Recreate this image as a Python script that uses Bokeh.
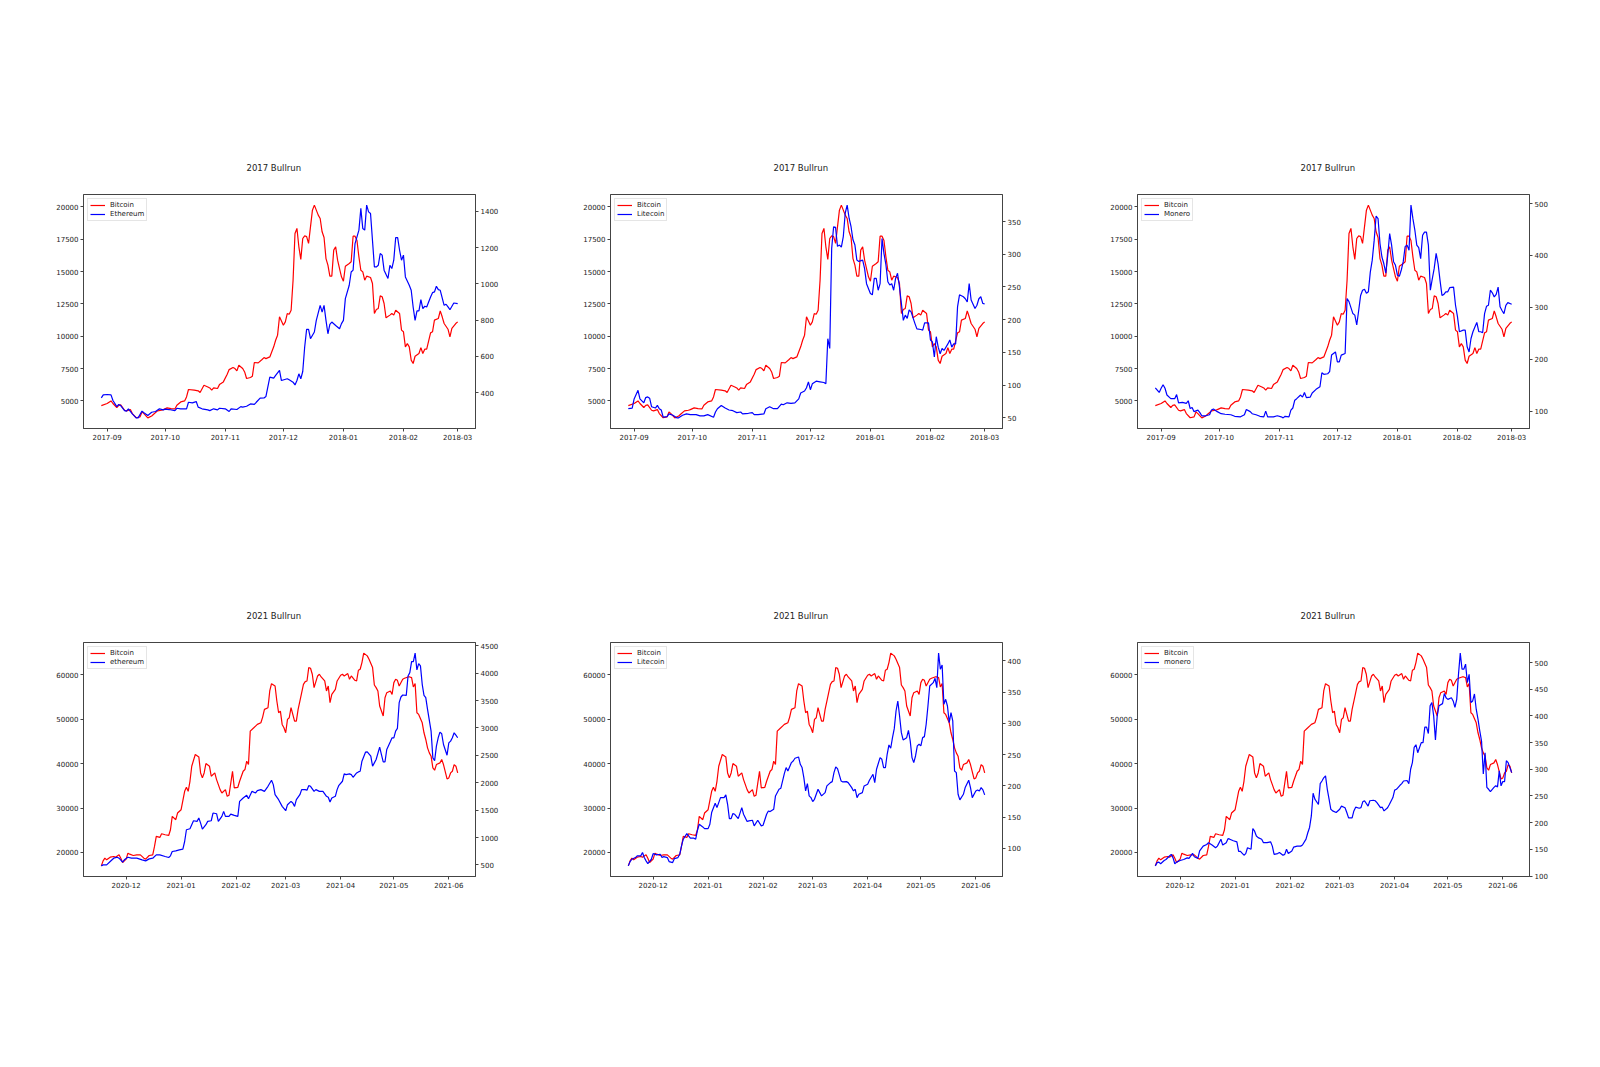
import pandas as pd
from bokeh.plotting import figure
from bokeh.models import (Range1d, LinearAxis, SingleIntervalTicker, DatetimeTickFormatter,
                          MonthsTicker, Legend, LegendItem, BasicTickFormatter, ColumnDataSource)
from bokeh.layouts import column, row
from bokeh.embed import file_html
from bokeh.resources import INLINE

FONT = "DejaVu Sans"

# ---- data: (day offset from start date, daily price in USD) ----
start17 = "2017-08-29"
start21 = "2020-11-17"

btc17 = [(0,4640),(3,4800),(5,5000),(6,4800),(8,4490),(9,4650),(10,4690),(12,4280),(13,4230),(15,4330),
         (16,4020),(18,3700),(20,3765),(21,4150),(22,4020),(24,3690),(26,3840),(27,3970),(29,4230),(31,4280),
         (32,4330),(34,4460),(36,4410),(38,4380),(39,4670),(41,4920),(43,5000),(44,5310),(45,5880),(48,5830),
         (50,5780),(51,5650),(53,6210),(55,6080),(56,6000),(57,5830),(58,6010),(60,5960),(61,6260),(63,6470),
         (65,7060),(66,7420),(68,7580),(69,7500),(70,7320),(71,7760),(73,7500),(74,7240),(75,6730),(77,6810),
         (78,6910),(79,7970),(81,7940),(83,8200),(84,8350),(85,8270),(87,8400),(89,9180),(90,9690),(91,10080),
         (92,11500),(94,10850),(95,11110),(96,11750),(97,11700),(98,12010),(99,14300),(100,17940),(101,18330),
         (102,16910),(103,15930),(104,17550),(105,17760),(106,17700),(107,17170),(108,18450),(109,19740),
         (110,20130),(112,19360),(113,19100),(114,18070),(115,17630),(116,16000),(117,15490),(118,14640),
         (119,14640),(120,16650),(121,16910),(122,15880),(123,15230),(124,14590),(125,14250),(126,15410),
         (128,15620),(129,15750),(130,17730),(131,17730),(132,17400),(133,16130),(134,15100),(135,14970),
         (136,14330),(137,14640),(139,14540),(140,14070),(141,11750),(142,12060),(143,12140),(144,13120),
         (145,13050),(146,12530),(147,11420),(149,11630),(150,11750),(151,11630),(152,12010),(154,11750),
         (155,10470),(156,10340),(157,9180),(158,9430),(159,9180),(160,8150),(161,7890),(162,8450),(164,8660),
         (165,9120),(166,8660),(167,9000),(168,9000),(170,10260),(171,10340),(172,11240),(174,11370),
         (175,11960),(176,11500),(177,10980),(179,10540),(180,9950),(181,10600),(183,10980),(184,11110)]

eth17 = [(0,371),(1,388),(3,390),(5,388),(6,357),(8,323),(9,335),(10,329),(12,301),(13,298),(14,311),
         (16,283),(18,261),(19,261),(21,298),(22,289),(24,274),(26,292),(28,296),(30,311),(32,305),(33,309),
         (35,307),(38,301),(39,314),(41,311),(44,311),(45,347),(47,344),(49,351),(50,320),(52,311),(55,305),
         (56,301),(58,311),(60,305),(61,314),(64,311),(66,296),(67,311),(70,307),(72,323),(73,320),(75,325),
         (77,338),(79,335),(80,347),(82,370),(84,371),(85,379),(87,486),(89,480),(90,495),(92,523),(93,467),
         (96,477),(97,471),(99,458),(100,443),(101,467),(102,504),(103,477),(104,517),(105,652),(106,749),
         (107,749),(108,698),(110,735),(111,799),(113,882),(114,845),(115,882),(116,799),(117,725),(118,777),
         (119,790),(121,771),(123,753),(124,781),(125,799),(126,919),(128,993),(129,1066),(130,1076),
         (131,1223),(133,1297),(134,1417),(135,1306),(136,1297),(137,1435),(138,1398),(139,1389),(140,1241),
         (141,1094),(142,1094),(143,1103),(144,1168),(145,1159),(146,1076),(148,1030),(149,1103),(150,1085),
         (151,1131),(152,1256),(153,1256),(154,1186),(155,1131),(156,1159),(157,1039),(159,993),(160,965),
         (161,873),(162,799),(163,851),(164,851),(165,913),(166,864),(167,877),(168,873),(170,928),(171,952),
         (172,956),(173,987),(174,969),(175,965),(177,882),(178,888),(179,873),(180,858),(182,895),(184,891)]

ltc17 = [(0,64),(2,65),(3,79),(5,92),(6,79),(8,73),(9,81),(10,82),(11,80),(12,67),(14,65),(15,69),(16,64),
         (17,62),(18,51),(20,52),(21,56),(23,54),(25,50),(26,50),(28,54),(30,56),(32,55),(35,55),(37,53),
         (39,53),(41,55),(44,51),(45,59),(46,64),(48,69),(50,65),(52,62),(54,61),(56,58),(58,59),(59,56),
         (62,57),(64,58),(65,55),(67,55),(70,56),(71,64),(73,67),(75,64),(77,64),(79,71),(80,70),(82,73),
         (84,72),(86,73),(88,79),(89,88),(91,91),(92,96),(93,105),(94,93),(95,102),(97,106),(99,105),(101,104),
         (102,102),(103,171),(104,156),(105,309),(106,342),(107,341),(108,312),(109,314),(110,311),(111,327),
         (112,363),(113,375),(114,355),(115,342),(116,322),(117,314),(118,291),(119,289),(121,291),(122,278),
         (123,255),(125,240),(126,238),(127,263),(128,263),(129,245),(130,255),(131,324),(132,301),(133,284),
         (134,258),(135,253),(136,255),(137,245),(138,263),(139,271),(140,250),(142,199),(143,207),(144,202),
         (145,215),(146,212),(148,194),(149,186),(151,185),(152,184),(153,195),(155,195),(156,169),(157,166),
         (158,143),(159,174),(160,158),(161,148),(162,156),(163,153),(165,163),(166,169),(167,158),(168,163),
         (169,163),(170,220),(171,238),(173,235),(174,232),(175,227),(176,255),(177,230),(179,217),(180,222),
         (181,232),(182,235),(183,225),(184,224)]

xmr17 = [(0,145),(2,136),(3,144),(4,151),(5,144),(6,131),(8,124),(10,124),(11,132),(12,116),(14,117),
         (16,115),(17,120),(18,105),(19,107),(20,99),(22,102),(23,97),(24,91),(26,91),(28,93),(29,102),
         (30,104),(32,99),(34,95),(36,94),(39,93),(41,90),(44,89),(46,93),(47,103),(49,99),(50,95),(52,93),
         (54,90),(56,89),(57,100),(58,89),(61,89),(63,91),(65,89),(66,87),(67,90),(69,89),(70,102),(71,106),
         (72,121),(73,124),(75,131),(76,127),(77,136),(78,126),(80,127),(81,135),(83,142),(85,147),(86,174),
         (87,171),(89,172),(90,176),(91,208),(93,214),(94,195),(95,195),(96,208),(98,211),(99,317),(100,311),
         (102,288),(103,285),(104,266),(105,294),(106,323),(107,333),(108,335),(109,327),(110,330),(111,368),
         (112,391),(113,429),(114,476),(115,471),(116,423),(117,397),(118,384),(119,366),(120,400),(121,442),
         (122,420),(123,388),(124,381),(125,362),(126,360),(127,372),(128,388),(129,417),(130,420),(131,410),
         (132,497),(133,471),(134,449),(135,420),(136,415),(137,394),(138,439),(139,445),(140,445),(141,420),
         (142,333),(143,355),(144,375),(145,404),(146,384),(147,352),(148,323),(149,325),(150,330),(151,330),
         (152,338),(154,339),(155,304),(156,282),(157,253),(159,256),(160,256),(161,224),(162,214),(163,240),
         (164,253),(165,262),(166,271),(167,253),(168,253),(169,251),(170,288),(171,302),(172,304),(173,333),
         (174,328),(175,320),(176,325),(177,339),(178,301),(179,294),(180,288),(181,304),(182,309),(184,306)]

btc21 = [(0,16990),(1,18120),(2,18720),(3,18350),(5,18950),(7,19100),(8,18950),(10,19470),(11,18720),
         (12,17740),(14,18500),(15,19850),(16,19620),(18,19320),(20,19470),(22,19470),(24,18720),(25,18500),
         (27,19320),(29,19470),(30,21350),(31,23610),(33,23380),(34,24210),(36,23980),(38,23830),(39,25110),
         (40,28120),(42,27370),(43,28870),(45,29620),(47,33760),(48,34660),(49,33760),(50,36010),(51,39400),
         (53,42030),(55,41500),(56,37890),(57,36770),(58,37890),(59,40000),(61,39400),(62,37140),(64,37890),
         (65,36390),(67,34130),(68,33380),(70,34130),(71,32630),(72,32860),(74,38270),(75,34510),(77,34660),
         (78,36010),(80,38270),(81,38650),(82,40530),(83,39770),(84,47290),(86,48040),(87,48420),(88,48800),
         (90,49170),(91,50450),(92,52180),(94,52560),(95,56320),(96,57970),(98,57440),(99,54060),(100,51430),
         (101,51800),(102,48800),(103,48040),(104,46920),(105,49920),(106,50300),(107,52560),(108,51050),
         (109,49550),(110,49550),(111,52180),(112,54060),(114,57820),(115,58420),(116,58570),(117,61580),
         (118,61430),(119,60080),(120,57070),(122,59700),(123,60080),(124,59470),(126,58570),(127,56320),
         (128,57440),(129,53680),(130,55560),(132,56690),(133,58570),(135,59850),(136,60080),(137,59700),
         (139,60230),(140,58950),(141,59700),(143,58720),(144,58570),(145,60980),(146,61200),(147,62710),
         (148,64830),(150,64210),(151,63460),(153,61580),(154,57670),(155,57070),(156,56320),(157,52930),
         (159,50680),(160,54810),(161,55940),(163,56320),(164,55560),(165,58200),(166,58950),(167,58720),
         (168,57440),(170,58950),(171,59170),(173,59470),(174,59470),(175,59320),(176,57220),(177,57970),
         (178,51430),(179,51050),(181,49170),(182,46920),(183,45410),(184,43530),(185,42400),(186,41650),
         (187,39020),(188,38500),(189,39770),(191,40150),(192,40900),(193,39770),(195,36540),(196,36770),
         (197,37890),(198,38270),(199,39770),(200,39400),(201,37890)]

eth21 = [(0,482),(1,500),(3,500),(5,561),(7,622),(9,640),(10,622),(12,549),(13,592),(15,640),(17,622),
         (20,622),(23,592),(25,573),(27,610),(29,622),(31,683),(33,683),(36,653),(38,634),(39,665),(40,744),
         (42,756),(44,775),(46,787),(47,927),(48,1141),(50,1160),(51,1233),(52,1306),(54,1294),(55,1355),
         (56,1263),(57,1153),(59,1233),(60,1294),(62,1306),(63,1447),(65,1434),(66,1294),(68,1386),(69,1477),
         (70,1386),(72,1386),(73,1428),(75,1404),(77,1386),(78,1660),(80,1721),(82,1770),(83,1709),(85,1843),
         (87,1813),(88,1856),(90,1874),(92,1843),(94,1935),(96,2045),(97,1966),(98,1782),(100,1691),(102,1569),
         (104,1489),(105,1599),(107,1660),(108,1630),(109,1569),(110,1691),(112,1782),(113,1874),(115,1874),
         (116,1862),(117,1947),(118,1935),(120,1843),(121,1874),(123,1843),(125,1843),(127,1752),(128,1734),
         (129,1648),(130,1721),(132,1752),(133,1874),(134,1953),(136,2027),(137,2161),(138,2149),(140,2161),
         (141,2149),(142,2100),(144,2179),(145,2198),(146,2210),(147,2393),(149,2558),(150,2564),(152,2485),
         (153,2301),(154,2363),(155,2424),(157,2650),(158,2515),(159,2381),(160,2381),(161,2607),(163,2747),
         (164,2821),(165,2821),(166,2943),(167,2992),(168,3462),(169,3566),(170,3602),(172,3596),(173,3950),
         (174,4011),(175,4213),(176,4213),(177,4367),(178,4060),(179,4176),(180,4134),(181,3798),(182,3596),
         (183,3553),(184,3340),(186,2943),(187,2454),(188,2405),(189,2668),(190,2821),(191,2924),(192,2894),
         (193,2698),(195,2503),(196,2729),(197,2760),(198,2821),(199,2912),(200,2870),(201,2821)]

ltc21 = [(0,71.7),(1,78.6),(2,82.3),(4,85.0),(5,87.7),(7,87.7),(8,93.0),(9,85.0),(10,79.7),(11,75.4),
         (13,82.3),(14,91.4),(16,89.3),(18,90.3),(19,85.0),(20,86.6),(22,85.0),(23,78.6),(25,77.0),(26,83.4),
         (28,85.0),(29,90.3),(30,103.7),(31,114.4),(33,123.4),(34,119.7),(35,116.0),(37,116.0),(38,114.4),
         (39,128.8),(40,138.4),(42,134.1),(43,131.4),(45,131.4),(46,138.4),(47,157.1),(49,172.0),(50,165.1),
         (51,173.1),(52,181.1),(54,181.1),(55,185.4),(56,170.4),(57,147.5),(58,147.5),(59,155.5),(60,154.4),
         (62,147.5),(64,165.1),(65,154.4),(67,142.7),(68,143.7),(70,144.8),(71,135.7),(73,144.8),(75,135.7),
         (76,136.8),(78,154.4),(79,159.7),(80,158.7),(82,162.4),(83,183.8),(85,194.4),(86,196.0),(88,219.5),
         (89,229.2),(90,223.8),(92,237.2),(93,239.8),(94,244.1),(96,246.2),(97,234.5),(98,229.2),(99,213.1),
         (100,191.8),(101,203.5),(102,183.8),(103,181.1),(104,174.7),(105,178.4),(107,194.4),(108,189.1),
         (109,183.8),(111,189.1),(112,199.8),(114,205.1),(115,206.7),(116,221.1),(117,230.2),(118,227.6),
         (120,207.8),(121,206.2),(123,206.7),(124,205.1),(126,197.1),(127,191.8),(128,194.4),(129,181.1),
         (130,186.4),(132,189.1),(133,199.8),(135,202.5),(136,208.9),(138,218.5),(139,205.1),(140,226.5),
         (142,245.2),(143,242.5),(144,229.2),(145,229.2),(146,250.5),(147,265.5),(148,260.2),(149,277.2),
         (150,291.6),(151,319.9),(152,335.9),(153,311.9),(154,285.2),(155,273.5),(157,277.2),(158,288.9),
         (159,271.9),(160,245.2),(161,237.2),(162,247.8),(163,263.9),(164,266.5),(165,263.9),(166,277.2),
         (167,278.8),(168,298.6),(169,327.9),(170,360.0),(172,365.3),(173,372.2),(174,357.3),(175,412.6),
         (176,386.7),(177,393.6),(178,330.6),(179,338.6),(180,327.9),(181,301.2),(182,317.2),(183,303.9),
         (184,223.8),(185,221.1),(186,186.4),(187,177.4),(189,186.4),(190,197.1),(192,208.9),(193,197.1),
         (194,181.1),(196,191.8),(197,193.4),(198,191.8),(199,197.1),(200,193.4),(201,185.4)]

xmr21 = [(0,119),(1,125),(2,126),(3,123),(5,129),(6,131),(8,137.5),(9,140.6),(10,134),(11,123),(12,126),
         (14,129),(16,131),(18,134),(19,133),(21,142.5),(22,136),(24,133),(25,147),(27,156),(29,159),
         (30,162.5),(32,158),(34,153),(35,156),(37,169),(38,158),(40,162.5),(41,170),(42,169),(44,166),
         (46,164),(47,146),(48,146),(50,139),(51,142),(52,153),(54,150),(55,189),(56,184),(57,175),(58,172),
         (60,169),(61,162.5),(63,162.5),(65,164),(66,156),(67,140.6),(69,142),(70,144),(72,139),(73,140.6),
         (74,150),(75,142),(77,147),(78,154),(80,156),(82,156),(83,158),(85,169),(86,181),(87,191),(88,212.5),
         (89,255),(90,244),(92,234),(93,273),(94,278),(95,284),(96,287.5),(97,262.5),(98,244),(99,225),
         (100,222),(102,219),(104,225),(105,231),(107,228),(108,219),(109,209),(111,209),(112,222),(113,229),
         (115,227),(116,228),(117,239),(118,241),(120,231),(121,241),(123,242),(124,241),(125,237.5),(127,228),
         (128,229),(129,222),(131,228),(132,234),(134,247),(135,261),(136,262.5),(138,270),(139,273),(140,278),
         (142,279),(143,273),(144,300),(145,312.5),(146,341),(147,346),(148,331),(150,350),(151,350),(152,379),
         (153,379),(154,367),(155,419),(156,425),(157,400),(158,355),(159,400),(160,419),(162,423),(163,442),
         (164,434),(165,431),(167,434),(168,428),(169,416),(170,431),(171,478),(172,517.6),(173,487.5),
         (174,487.5),(175,497),(176,462.5),(177,478),(178,425),(179,428),(180,441),(181,412.5),(182,394),
         (183,372),(184,353),(185,291),(186,331),(187,266),(188,262.5),(189,258),(191,266),(192,269),(193,267),
         (194,297),(195,269),(196,277),(197,277),(198,316),(199,312.5),(200,303),(201,294)]

titles = ["2017 Bullrun", "2021 Bullrun"]
btc_label = "Bitcoin"
alt_labels17 = ["Ethereum", "Litecoin", "Monero"]
alt_labels21 = ["ethereum", "Litecoin", "monero"]
btc_tick_step = {"2017": 2500, "2021": 10000}
alt_tick_steps17 = [200, 50, 100]
alt_tick_steps21 = [500, 50, 50]


def to_series(start, pairs):
    days = [d for d, _ in pairs]
    vals = [v for _, v in pairs]
    dates = pd.Timestamp(start) + pd.to_timedelta(days, unit="D")
    return dates, vals


def padded(lo, hi, frac=0.05):
    span = hi - lo
    return lo - frac * span, hi + frac * span


def style_axis(ax):
    ax.major_label_text_font = FONT
    ax.major_label_text_font_size = "7px"
    ax.major_label_text_color = "#222222"
    ax.axis_line_color = "#444444"
    ax.major_tick_line_color = "#444444"
    ax.major_tick_out = 3
    ax.major_tick_in = 0
    ax.minor_tick_out = 0
    ax.minor_tick_in = 0
    ax.major_label_standoff = 2


def make_panel(title, start, btc_pairs, alt_pairs, alt_label, btc_step, alt_step, first_col, first_row):
    bx, bv = to_series(start, btc_pairs)
    ax_, av = to_series(start, alt_pairs)
    xlo = min(bx.min(), ax_.min())
    xhi = max(bx.max(), ax_.max())
    xspan = xhi - xlo
    x_range = Range1d(start=(xlo - 0.05 * xspan).to_pydatetime(),
                      end=(xhi + 0.05 * xspan).to_pydatetime())
    ylo, yhi = padded(min(bv), max(bv))
    alo, ahi = padded(min(av), max(av))

    extra_l = 8 if first_col else 0
    extra_t = 8 if first_row else 0
    p = figure(width=527 + extra_l, height=448 + extra_t, x_axis_type="datetime", x_range=x_range,
               y_range=Range1d(ylo, yhi), output_backend="svg", toolbar_location=None,
               min_border_left=75 + extra_l, min_border_right=60, min_border_top=186 + extra_t,
               min_border_bottom=28,
               background_fill_color="white", border_fill_color="white")
    p.extra_y_ranges = {"alt": Range1d(alo, ahi)}
    right = LinearAxis(y_range_name="alt", ticker=SingleIntervalTicker(interval=alt_step),
                       formatter=BasicTickFormatter(use_scientific=False))
    p.add_layout(right, "right")

    p.yaxis[0].ticker = SingleIntervalTicker(interval=btc_step)
    p.yaxis[0].formatter = BasicTickFormatter(use_scientific=False)
    p.xaxis.ticker = MonthsTicker(months=list(range(1, 13)))
    p.xaxis.formatter = DatetimeTickFormatter(days="%Y-%m", months="%Y-%m", years="%Y-%m")

    for a in p.axis:
        style_axis(a)

    p.grid.visible = False
    p.outline_line_color = "#444444"
    p.outline_line_width = 1

    s1 = ColumnDataSource(dict(x=bx.to_numpy(), y=bv))
    s2 = ColumnDataSource(dict(x=ax_.to_numpy(), y=av))
    r1 = p.line("x", "y", source=s1, line_color="red", line_width=1.2)
    r2 = p.line("x", "y", source=s2, line_color="blue", line_width=1.2, y_range_name="alt")

    legend = Legend(items=[LegendItem(label=btc_label, renderers=[r1]),
                           LegendItem(label=alt_label, renderers=[r2])],
                    location="top_left")
    legend.label_text_font = FONT
    legend.label_text_font_size = "7px"
    legend.label_text_color = "#222222"
    legend.glyph_width = 15
    legend.glyph_height = 8
    legend.label_height = 8
    legend.label_standoff = 5
    legend.spacing = 1
    legend.padding = 2
    legend.margin = 4
    legend.border_line_color = "#cccccc"
    legend.background_fill_alpha = 0.8
    p.add_layout(legend)

    p.title.text = title
    p.title.align = "left"
    p.title.offset = 163
    p.title.standoff = 44
    p.title.text_font = FONT
    p.title.text_font_size = "8.5px"
    p.title.text_font_style = "normal"
    p.title.text_color = "#222222"
    return p


top = [make_panel(titles[0], start17, btc17, alt, lab, btc_tick_step["2017"], st, i == 0, True)
       for i, (alt, lab, st) in enumerate(zip([eth17, ltc17, xmr17], alt_labels17, alt_tick_steps17))]
bottom = [make_panel(titles[1], start21, btc21, alt, lab, btc_tick_step["2021"], st, i == 0, False)
          for i, (alt, lab, st) in enumerate(zip([eth21, ltc21, xmr21], alt_labels21, alt_tick_steps21))]

layout = column(row(*top), row(*bottom))
open("out.html", "w").write(file_html(layout, INLINE))
